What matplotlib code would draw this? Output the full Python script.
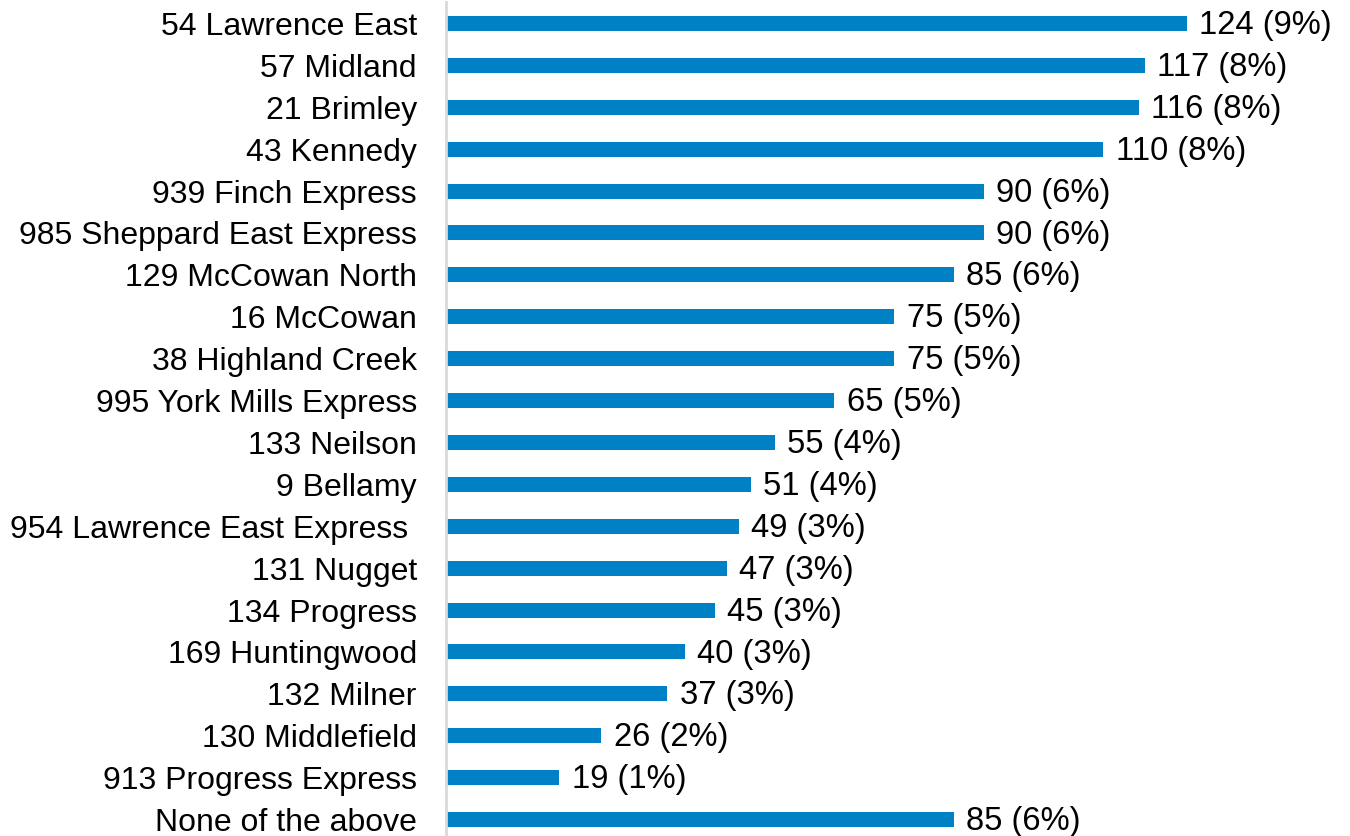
import matplotlib.pyplot as plt

plt.rcParams['font.family'] = ['Liberation Sans', 'DejaVu Sans']

# Route data (top to bottom)
routes = ["54 Lawrence East", "57 Midland", "21 Brimley", "43 Kennedy",
          "939 Finch Express", "985 Sheppard East Express", "129 McCowan North",
          "16 McCowan", "38 Highland Creek", "995 York Mills Express",
          "133 Neilson", "9 Bellamy", "954 Lawrence East Express ",
          "131 Nugget", "134 Progress", "169 Huntingwood", "132 Milner",
          "130 Middlefield", "913 Progress Express", "None of the above"]
counts = [124, 117, 116, 110, 90, 90, 85, 75, 75, 65, 55, 51, 49, 47, 45, 40, 37, 26, 19, 85]
pcts = [9, 8, 8, 8, 6, 6, 6, 5, 5, 5, 4, 4, 3, 3, 3, 3, 3, 2, 1, 6]

W, H = 1350, 836
fig = plt.figure(figsize=(W / 100, H / 100), dpi=100)
# axes placed in pixels: left edge at the grey axis line, bottom runs a bit past the figure
ax = fig.add_axes([446 / W, -4.5 / H, 896 / W, 838 / H])

n = len(routes)
ypos = list(range(n))
ax.barh(ypos, counts, height=0.36, color="#0081C6")
ax.set_ylim(n - 0.5, -0.5)
ax.set_xlim(0, 150)

for y, c, p in zip(ypos, counts, pcts):
    ax.text(c + 2.1, y + 0.05, f"{c} ({p}%)", va="center", ha="left", fontsize=23.6,
            color="#000000", clip_on=False)

ax.set_yticks(ypos)
ax.set_yticklabels(routes, fontsize=23)
ax.tick_params(axis="y", length=0, pad=21)
ax.set_xticks([])
for s in ["top", "right", "bottom"]:
    ax.spines[s].set_visible(False)
ax.spines["left"].set_color("#D9D9D9")
ax.spines["left"].set_linewidth(2)

fig.savefig("out.png", dpi=100)
